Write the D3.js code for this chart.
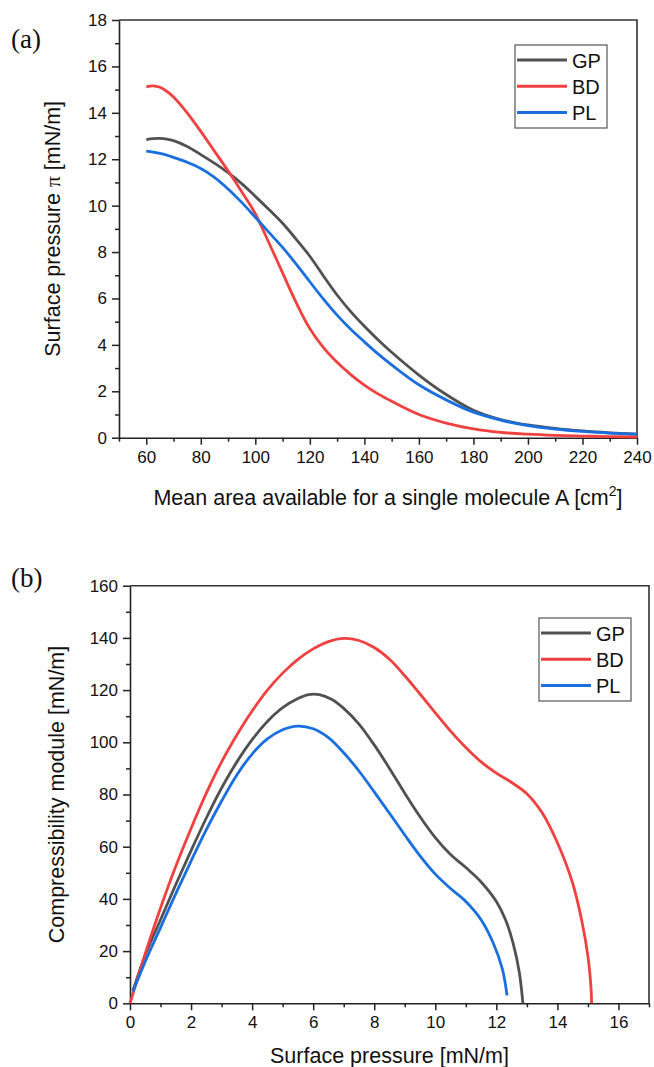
<!DOCTYPE html>
<html>
<head>
<meta charset="utf-8">
<script src="https://cdn.jsdelivr.net/npm/d3@7"></script>
<style>
  body { margin: 0; background: #fff; }
  svg { display: block; font-family: 'Liberation Sans', Arial, sans-serif; }
</style>
</head>
<body>
<svg id="chart" width="654" height="1067"></svg>
<script>
// (a) isotherms: surface pressure vs mean area per molecule
const areaA = [60, 62.5, 65, 67.5, 70, 75, 80, 85, 90, 95, 100, 105, 110, 115, 120, 125, 130, 135, 140, 145, 150, 160, 170, 180, 190, 200, 210, 220, 230, 240];
const gpPressure = [12.85, 12.89, 12.9, 12.87, 12.8, 12.55, 12.2, 11.83, 11.42, 10.95, 10.4, 9.83, 9.24, 8.55, 7.82, 6.97, 6.15, 5.43, 4.8, 4.22, 3.68, 2.7, 1.86, 1.18, 0.78, 0.55, 0.4, 0.29, 0.21, 0.15];
const bdPressure = [15.12, 15.16, 15.1, 14.93, 14.68, 14.0, 13.2, 12.35, 11.5, 10.6, 9.65, 8.4, 7.1, 5.82, 4.7, 3.88, 3.25, 2.72, 2.27, 1.89, 1.57, 1.0, 0.63, 0.38, 0.23, 0.15, 0.1, 0.07, 0.05, 0.03];
const plPressure = [12.35, 12.31, 12.25, 12.18, 12.08, 11.87, 11.6, 11.22, 10.72, 10.14, 9.5, 8.85, 8.2, 7.48, 6.72, 5.97, 5.28, 4.67, 4.13, 3.61, 3.14, 2.28, 1.63, 1.1, 0.76, 0.52, 0.37, 0.27, 0.2, 0.15];

// (b) compressibility module vs surface pressure
const gpPi = [0.1, 0.5, 1, 1.5, 2, 2.5, 3, 3.5, 4, 4.5, 5, 5.5, 5.85, 6.2, 6.6, 7, 7.5, 8, 8.5, 9, 9.5, 10, 10.5, 11, 11.5, 12, 12.3, 12.55, 12.75, 12.87];
const gpK = [5, 18.5, 32, 45.5, 58.5, 71, 82.5, 92.5, 101, 108, 113.3, 116.8, 118.3, 118.3, 116.5, 113, 107, 99, 90, 80.5, 71.5, 63.5, 57, 52, 46.5, 39, 32, 23, 12, 0];
const bdPi = [0, 0.5, 1, 1.5, 2, 2.5, 3, 3.5, 4, 4.5, 5, 5.5, 6, 6.5, 7, 7.5, 8, 8.5, 9, 9.5, 10, 10.5, 11, 11.5, 12, 12.5, 13, 13.5, 14, 14.5, 14.8, 15, 15.1, 15.12];
const bdK = [0, 19, 36.5, 52.5, 67, 80.5, 92.5, 102.8, 112, 120, 126.5, 131.8, 135.8, 138.6, 139.8, 139, 136.3, 131.8, 125.5, 118.5, 111.3, 104.3, 98, 92.5, 88.2, 84.6, 80.3, 73, 61.5, 46, 31.5, 18, 6, 0];
const plPi = [0.1, 0.5, 1, 1.5, 2, 2.5, 3, 3.5, 4, 4.5, 5, 5.5, 6, 6.5, 7, 7.5, 8, 8.5, 9, 9.5, 10, 10.5, 11, 11.5, 11.9, 12.2, 12.35];
const plK = [4.5, 16, 29, 42, 54.5, 66.5, 77.5, 87.5, 95.5, 101.3, 104.8, 106.2, 105.2, 101.8, 96, 89, 81, 72.8, 64.5, 56.5, 49.5, 44, 39, 32, 23, 13, 3];

const seriesNames = ['GP', 'BD', 'PL'];
const colors = { GP: '#515151', BD: '#F14040', PL: '#1A6FDF' };

const svg = d3.select('#chart');

function drawPanel(opt) {
  const g = svg.append('g');
  const x = d3.scaleLinear().domain(opt.xDomain).range([opt.left, opt.right]);
  const y = d3.scaleLinear().domain(opt.yDomain).range([opt.bottom, opt.top]);

  // minor ticks
  g.append('g')
    .attr('transform', `translate(0,${opt.bottom})`)
    .call(d3.axisBottom(x).tickValues(opt.xMinor).tickSize(4).tickFormat(''))
    .call(a => a.select('.domain').remove());
  g.append('g')
    .attr('transform', `translate(${opt.left},0)`)
    .call(d3.axisLeft(y).tickValues(opt.yMinor).tickSize(4).tickFormat(''))
    .call(a => a.select('.domain').remove());

  // major ticks
  const xa = g.append('g')
    .attr('transform', `translate(0,${opt.bottom})`)
    .call(d3.axisBottom(x).tickValues(opt.xMajor).tickSize(7).tickPadding(6).tickSizeOuter(0));
  const ya = g.append('g')
    .attr('transform', `translate(${opt.left},0)`)
    .call(d3.axisLeft(y).tickValues(opt.yMajor).tickSize(7).tickPadding(5).tickSizeOuter(0));
  [xa, ya].forEach(a => {
    a.selectAll('text').style('font-size', '17px').style('fill', '#111')
      .style('font-family', "'Liberation Sans', Arial, sans-serif");
  });
  g.selectAll('.tick line').style('stroke', '#222').style('stroke-width', 1.5);
  g.selectAll('.domain').style('stroke', '#222').style('stroke-width', 1.6);

  // frame (top + right)
  g.append('path')
    .attr('d', `M${opt.left},${opt.top}H${opt.right}V${opt.bottom}`)
    .attr('fill', 'none').attr('stroke', '#333').attr('stroke-width', 1.6);

  // curves
  const line = d3.line()
    .x(d => x(d[0]))
    .y(d => y(d[1]))
    .curve(d3.curveCatmullRom.alpha(0.5));
  opt.series.forEach(s => {
    g.append('path')
      .datum(s.xs.map((v, i) => [v, s.ys[i]]))
      .attr('fill', 'none')
      .attr('stroke', colors[s.name])
      .attr('stroke-width', 2.8)
      .attr('d', line);
  });

  // legend
  const lg = g.append('g').attr('transform', `translate(${opt.legend[0]},${opt.legend[1]})`);
  lg.append('rect')
    .attr('x', 0).attr('y', 0).attr('width', 92).attr('height', 83)
    .attr('fill', '#fff').attr('stroke', '#555').attr('stroke-width', 1.2);
  seriesNames.forEach((n, i) => {
    const cy = 15 + i * 26.3;
    lg.append('line')
      .attr('x1', 2).attr('x2', 52).attr('y1', cy).attr('y2', cy)
      .attr('stroke', colors[n]).attr('stroke-width', 3);
    lg.append('text')
      .attr('x', 57).attr('y', cy + 7.5)
      .style('font-size', '20px').style('fill', '#111')
      .text(n);
  });

  // panel letter
  svg.append('text')
    .attr('x', 11).attr('y', opt.letterY)
    .style('font-family', "'Liberation Serif', 'Times New Roman', serif")
    .style('font-size', '27px').style('fill', '#111')
    .text(opt.letter);

  // axis titles
  const xt = svg.append('text')
    .attr('x', opt.xTitleX).attr('y', opt.xTitleY)
    .attr('text-anchor', 'middle')
    .style('font-size', '21.5px').style('fill', '#111');
  opt.xTitle(xt);

  const cyMid = (opt.top + opt.bottom) / 2;
  const yt = svg.append('text')
    .attr('transform', `translate(${opt.yTitleX},${cyMid}) rotate(-90)`)
    .attr('text-anchor', 'middle')
    .style('font-size', '21.5px').style('fill', '#111');
  opt.yTitle(yt);
}

drawPanel({
  left: 119, right: 637, top: 20, bottom: 437.7,
  xDomain: [50, 240], yDomain: [0, 18],
  xMajor: d3.range(60, 241, 20), xMinor: d3.range(50, 240, 20),
  yMajor: d3.range(0, 19, 2), yMinor: d3.range(1, 18, 2),
  series: [
    { name: 'GP', xs: areaA, ys: gpPressure },
    { name: 'BD', xs: areaA, ys: bdPressure },
    { name: 'PL', xs: areaA, ys: plPressure }
  ],
  legend: [515, 45],
  letter: '(a)', letterY: 48,
  xTitleX: 388, xTitleY: 505,
  xTitle: t => {
    t.append('tspan').text('Mean area available for a single molecule A [cm');
    t.append('tspan').attr('dy', -9).style('font-size', '14px').text('2');
    t.append('tspan').attr('dy', 9).text(']');
  },
  yTitleX: 60,
  yTitle: t => {
    t.append('tspan').text('Surface pressure ');
    t.append('tspan').style('font-family', "'Liberation Serif', serif").text('π');
    t.append('tspan').text(' [mN/m]');
  }
});

drawPanel({
  left: 130, right: 649, top: 585.7, bottom: 1003.3,
  xDomain: [0, 17], yDomain: [0, 160],
  xMajor: d3.range(0, 17, 2), xMinor: d3.range(1, 18, 2),
  yMajor: d3.range(0, 161, 20), yMinor: d3.range(10, 160, 20),
  series: [
    { name: 'GP', xs: gpPi, ys: gpK },
    { name: 'BD', xs: bdPi, ys: bdK },
    { name: 'PL', xs: plPi, ys: plK }
  ],
  legend: [539, 618],
  letter: '(b)', letterY: 587,
  xTitleX: 389.5, xTitleY: 1063,
  xTitle: t => t.text('Surface pressure [mN/m]'),
  yTitleX: 64,
  yTitle: t => t.text('Compressibility module [mN/m]')
});
</script>
</body>
</html>
